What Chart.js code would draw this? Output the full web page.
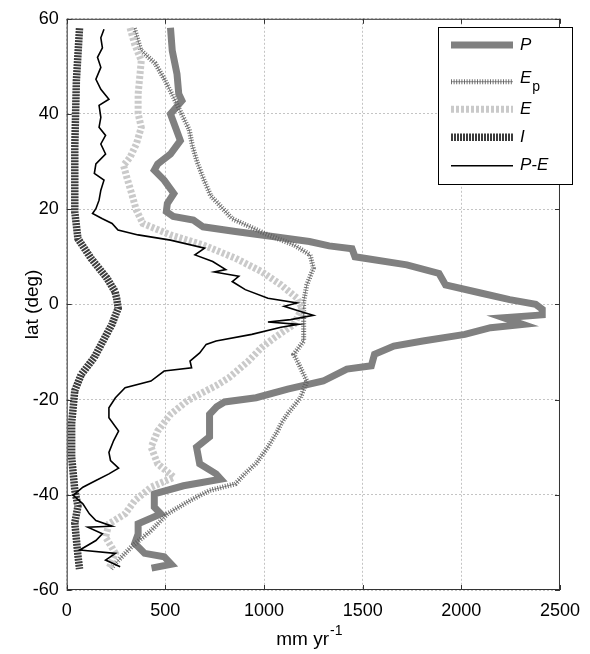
<!DOCTYPE html>
<html>
<head>
<meta charset="utf-8">
<script src="https://cdn.jsdelivr.net/npm/chart.js@4.4.1/dist/chart.umd.min.js"></script>
<style>
  html, body { margin: 0; padding: 0; background: #fff; }
  canvas { display: block; }
</style>
</head>
<body>
<canvas id="chart" width="590" height="654"></canvas>
<script>
// values: latitude (deg) and rate (mm/yr)
const xTicks = [0, 500, 1000, 1500, 2000, 2500];
const yTicks = [-60, -40, -20, 0, 20, 40, 60];

const pLat = [58.1, 53.3, 48.4, 44.2, 42.8, 40, 37.2, 34.4, 31.6, 29.5, 28.2, 26.1, 23.3, 21.2, 19.5, 18.5, 17.7, 16.3, 15.3, 14.2, 13.2, 12.3, 11.7, 10, 8.3, 6.5, 4.1, 2.4, 1, 0, -1, -2.2, -2.8, -4.2, -4.9, -6.3, -7.7, -8.75, -10.5, -12.9, -13.6, -16.1, -17.8, -19.6, -20.5, -21.5, -23.1, -27.8, -30, -33.5, -35.6, -36.7, -38.1, -39.8, -42.6, -44, -46.1, -48.2, -50.2, -52.3, -53, -54.6, -55.4];
const pVal = [526, 535, 559, 568, 584, 526, 551, 576, 526, 461, 444, 494, 543, 510, 505, 540, 642, 691, 855, 1053, 1230, 1330, 1446, 1461, 1724, 1887, 1920, 2098, 2245, 2377, 2410, 2410, 2214, 2312, 2148, 2018, 1805, 1658, 1560, 1544, 1420, 1300, 1120, 960, 800, 760, 724, 724, 658, 674, 757, 781, 592, 444, 444, 477, 362, 362, 345, 395, 494, 530, 430];

const epLat = [58, 53.4, 50.6, 47.1, 43.7, 40.2, 36.7, 33.3, 29.8, 26.3, 22.8, 21.5, 18, 14.6, 12.5, 10.4, 7.6, 4.1, 0.6, -3.5, -7.7, -10.5, -13.3, -16.1, -19.6, -23, -25, -26.5, -29.9, -33.4, -35.5, -37.7, -39.1, -41.2, -44, -47.5, -50.9, -54.4, -55.5];
const epVal = [343, 376, 449, 498, 539, 580, 621, 637, 662, 694, 730, 760, 839, 1020, 1151, 1234, 1250, 1217, 1201, 1201, 1201, 1151, 1185, 1217, 1185, 1119, 1087, 1070, 1021, 960, 905, 855, 724, 625, 510, 428, 329, 247, 225];

const eLat = [58.1, 54.6, 51.2, 47.7, 44.2, 40.1, 37.2, 33.7, 30.9, 29.2, 26.8, 23.3, 19.8, 17, 14.6, 12.5, 9.7, 6.9, 4.1, 1.3, -0.8, -4.2, -7, -9.1, -11.9, -15.4, -17, -18.5, -20.3, -23.1, -26.6, -30, -33.5, -36.3, -38.4, -41.2, -44, -46.1, -48.9, -52.3, -55.5];
const eVal = [321, 345, 378, 370, 362, 362, 378, 353, 321, 288, 304, 329, 353, 386, 526, 691, 855, 987, 1086, 1168, 1193, 1151, 1053, 987, 921, 822, 760, 690, 610, 526, 461, 428, 461, 543, 428, 345, 296, 214, 197, 247, 214];

const iLat = [58, 47, 33, 19.4, 13.8, 9.7, 5.5, 2.7, 1.3, -0.8, -4.2, -11.2, -14.7, -18.1, -25, -32, -39, -42.4, -45.9, -52.8, -55.6];
const iVal = [65, 49, 41, 41, 57, 123, 204, 245, 253, 261, 229, 139, 74, 41, 25, 25, 41, 57, 41, 57, 65];

const pmeLat = [57.8, 56, 53.9, 51.9, 49.8, 47.3, 45.2, 43.1, 41.8, 39.3, 37.2, 35.5, 33.7, 31.6, 29.5, 27.5, 26.1, 24, 21.9, 20.1, 19.1, 18, 17, 15.6, 14.6, 13.5, 11.8, 10.4, 9, 7.3, 6.8, 5.9, 4.8, 3.1, 1.3, 0.3, -0.4, -1.5, -2.3, -3.2, -3.7, -4.2, -4.8, -6.3, -7.7, -8.4, -10.2, -11.9, -13.3, -14, -16.1, -17.5, -19.6, -21.7, -23.8, -26.6, -28.6, -31.1, -32.8, -34.4, -35.6, -37, -38.4, -40.1, -41.9, -44, -45.4, -46.6, -46.8, -48.2, -49.6, -51.6, -52.3, -53.7, -55.1];
const pmeVal = [189, 173, 181, 156, 173, 148, 173, 214, 164, 173, 164, 197, 173, 197, 148, 140, 189, 173, 164, 148, 131, 181, 230, 260, 362, 526, 699, 650, 740, 806, 748, 872, 839, 905, 1020, 1168, 1102, 1185, 1250, 1135, 1020, 1176, 1086, 938, 757, 707, 674, 625, 633, 494, 427, 296, 247, 214, 214, 263, 238, 214, 222, 263, 214, 148, 82, 33, 82, 115, 148, 230, 107, 181, 148, 66, 247, 197, 271];

function pts(lat, val) {
  return lat.map((y, i) => ({ x: val[i], y: y }));
}

// styles; Ep gets a thin core line under its hatching
const series = [
  { key: "P", data: pts(pLat, pVal), layers: [{ color: "#808080", width: 7, dash: [] }], order: 5 },
  { key: "Ep", data: pts(epLat, epVal), layers: [{ color: "#909090", width: 1, dash: [] }, { color: "rgba(90,90,90,0.85)", width: 5, dash: [1, 1.6] }], order: 4 },
  { key: "E", data: pts(eLat, eVal), layers: [{ color: "#cacaca", width: 7, dash: [3, 2] }], order: 3 },
  { key: "I", data: pts(iLat, iVal), layers: [{ color: "#3c3c3c", width: 7.5, dash: [2, 1] }], order: 2 },
  { key: "P-E", data: pts(pmeLat, pmeVal), layers: [{ color: "#000000", width: 1.6, dash: [] }], order: 1 }
];

const FONT = "'Liberation Sans', Arial, Helvetica, sans-serif";

// frame, inward ticks, axis titles and legend box
const decor = {
  id: "decor",
  afterDatasetsDraw(chart) {
    const ctx = chart.ctx;
    const a = chart.chartArea;
    const xs = chart.scales.x, ys = chart.scales.y;
    ctx.save();
    ctx.strokeStyle = "#333";
    ctx.lineWidth = 1;
    ctx.setLineDash([]);
    ctx.strokeRect(a.left + 0.5, a.top + 0.5, a.right - a.left - 1, a.bottom - a.top - 1);
    ctx.beginPath();
    xTicks.forEach(v => {
      const px = Math.round(xs.getPixelForValue(v)) + 0.5;
      ctx.moveTo(px, a.bottom); ctx.lineTo(px, a.bottom - 5);
      ctx.moveTo(px, a.top); ctx.lineTo(px, a.top + 5);
    });
    yTicks.forEach(v => {
      const py = Math.round(ys.getPixelForValue(v)) + 0.5;
      ctx.moveTo(a.left, py); ctx.lineTo(a.left + 5, py);
      ctx.moveTo(a.right, py); ctx.lineTo(a.right - 5, py);
    });
    ctx.stroke();

    // legend
    const bx = 438.5, by = 27.5, bw = 134, bh = 157;
    ctx.fillStyle = "#fff";
    ctx.fillRect(bx, by, bw, bh);
    ctx.strokeStyle = "#000";
    ctx.strokeRect(bx, by, bw, bh);
    const rows = [45, 81.7, 109.3, 137.3, 165.7];
    series.forEach((s, i) => {
      const y = rows[i];
      s.layers.forEach(l => {
        ctx.beginPath();
        ctx.strokeStyle = l.color;
        ctx.lineWidth = l.width;
        ctx.setLineDash(l.dash);
        ctx.moveTo(451, y);
        ctx.lineTo(513, y);
        ctx.stroke();
      });
      ctx.setLineDash([]);
      ctx.fillStyle = "#000";
      ctx.textBaseline = "middle";
      ctx.textAlign = "left";
      ctx.font = "italic 17px " + FONT;
      if (s.key === "Ep") {
        ctx.fillText("E", 520, y - 3);
        const w = ctx.measureText("E").width;
        ctx.font = "14px " + FONT;
        ctx.fillText("p", 520 + w + 1, y + 5);
      } else {
        ctx.fillText(s.key, 520, y);
      }
    });

    // axis titles
    ctx.fillStyle = "#000";
    ctx.font = "19px " + FONT;
    ctx.textBaseline = "middle";
    ctx.textAlign = "center";
    ctx.save();
    ctx.translate(33, (a.top + a.bottom) / 2);
    ctx.rotate(-Math.PI / 2);
    ctx.fillText("lat (deg)", 0, 0);
    ctx.restore();
    const main = "mm yr";
    const mw = ctx.measureText(main).width;
    ctx.font = "14px " + FONT;
    const sw = ctx.measureText("-1").width;
    const cx = (a.left + a.right) / 2 - 4;
    const left = cx - (mw + sw + 1) / 2;
    ctx.textAlign = "left";
    ctx.font = "19px " + FONT;
    ctx.fillText(main, left, 640);
    ctx.font = "14px " + FONT;
    ctx.fillText("-1", left + mw + 1, 631);
    ctx.restore();
  }
};

const datasets = [];
series.forEach(s => {
  s.layers.forEach((l, j) => {
    datasets.push({
      label: s.key,
      data: s.data,
      showLine: true,
      borderColor: l.color,
      backgroundColor: l.color,
      borderWidth: l.width,
      borderDash: l.dash,
      borderCapStyle: "butt",
      borderJoinStyle: "miter",
      pointRadius: 0,
      tension: 0,
      order: s.order * 2 - j
    });
  });
});

new Chart(document.getElementById("chart"), {
  type: "scatter",
  data: { datasets: datasets },
  options: {
    responsive: false,
    animation: false,
    layout: { padding: { left: 0, top: 16, right: 16.7, bottom: 0 } },
    plugins: { legend: { display: false }, tooltip: { enabled: false } },
    scales: {
      x: {
        type: "linear",
        min: 0, max: 2500,
        afterBuildTicks: s => { s.ticks = xTicks.map(v => ({ value: v })); },
        afterFit: s => { s.height = 64; },
        grid: { color: "#c4c4c4", drawTicks: false },
        border: { display: false, dash: [2, 2] },
        ticks: { color: "#000", padding: 10, font: { family: FONT, size: 18 }, maxRotation: 0, callback: v => String(v) }
      },
      y: {
        type: "linear",
        min: -60, max: 60,
        afterBuildTicks: s => { s.ticks = yTicks.map(v => ({ value: v })); },
        afterFit: s => { s.width = 66.7; },
        grid: { color: "#c4c4c4", drawTicks: false },
        border: { display: false, dash: [2, 2] },
        ticks: { color: "#000", padding: 8, font: { family: FONT, size: 18 }, callback: v => String(v) }
      }
    }
  },
  plugins: [decor]
});
</script>
</body>
</html>
